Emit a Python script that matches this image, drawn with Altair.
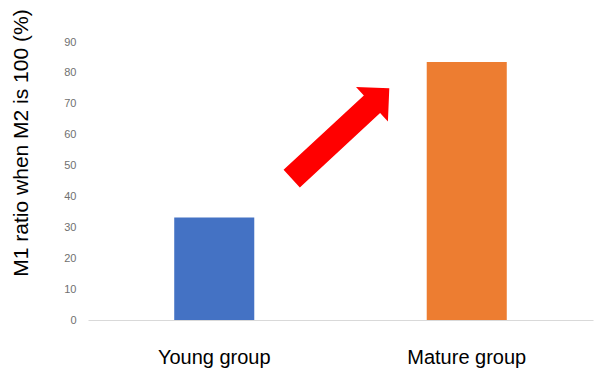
import altair as alt
import pandas as pd

# Data
groups = ["Young group", "Mature group"]
ratios = [33.2, 83.5]
colors = ["#4472C4", "#ED7D31"]
y_ticks = [0, 10, 20, 30, 40, 50, 60, 70, 80, 90]

# Annotation arrow (centre in data units on y)
arrow_y = [60.4]

W, H = 505, 278

bars_df = pd.DataFrame({"group": groups, "ratio": ratios})
arrow_df = pd.DataFrame({"y": arrow_y})

ARROW_PATH = ("M -1 -0.18 L 0.645 -0.18 L 0.645 -0.353 L 1 0 "
              "L 0.645 0.353 L 0.645 0.18 L -1 0.18 Z")

y_scale = alt.Scale(domain=[0, 90], nice=False)
y_title = "M1 ratio when M2 is 100 (%)"
y_axis = alt.Axis(values=y_ticks, grid=False, domain=False, ticks=False, tickSize=0,
                  labelOverlap=False,
                  labelFont="Liberation Sans", labelFontSize=11, labelColor="#707070",
                  labelPadding=12,
                  titleFont="Liberation Sans", titleFontSize=21, titleFontWeight="normal",
                  titleColor="#000000", titleAngle=270, titleAlign="center",
                  titleBaseline="alphabetic", titleX=-61, titleY=100.5)

bars = alt.Chart(bars_df).mark_bar().encode(
    x=alt.X("group:N", sort=groups, title=None,
            scale=alt.Scale(paddingInner=0.683, paddingOuter=0.3415),
            axis=alt.Axis(labelAngle=0, labelFont="Liberation Sans", labelFontSize=20,
                          labelColor="#000000", ticks=False, tickSize=0, labelPadding=27,
                          domainColor="#d9d9d9", domainWidth=1)),
    y=alt.Y("ratio:Q", scale=y_scale, title=y_title, axis=y_axis),
    color=alt.Color("group:N", scale=alt.Scale(domain=groups, range=colors), legend=None),
)

arrow = alt.Chart(arrow_df).mark_point(
    shape=ARROW_PATH, filled=True, color="#FF0000", opacity=1, strokeWidth=0,
    size=17689, angle=317.2,
).encode(
    x=alt.value(W / 2),
    y=alt.Y("y:Q", scale=y_scale, title=y_title, axis=y_axis),
)

chart = alt.layer(bars, arrow).properties(
    width=W, height=H,
    background="white",
    autosize=alt.AutoSizeParams(type="none"),
    padding={"left": 88, "top": 42, "right": 3, "bottom": 49},
).configure_view(stroke=None, strokeWidth=0)

chart.save("out.html", embed_options={"renderer": "svg", "actions": False})
